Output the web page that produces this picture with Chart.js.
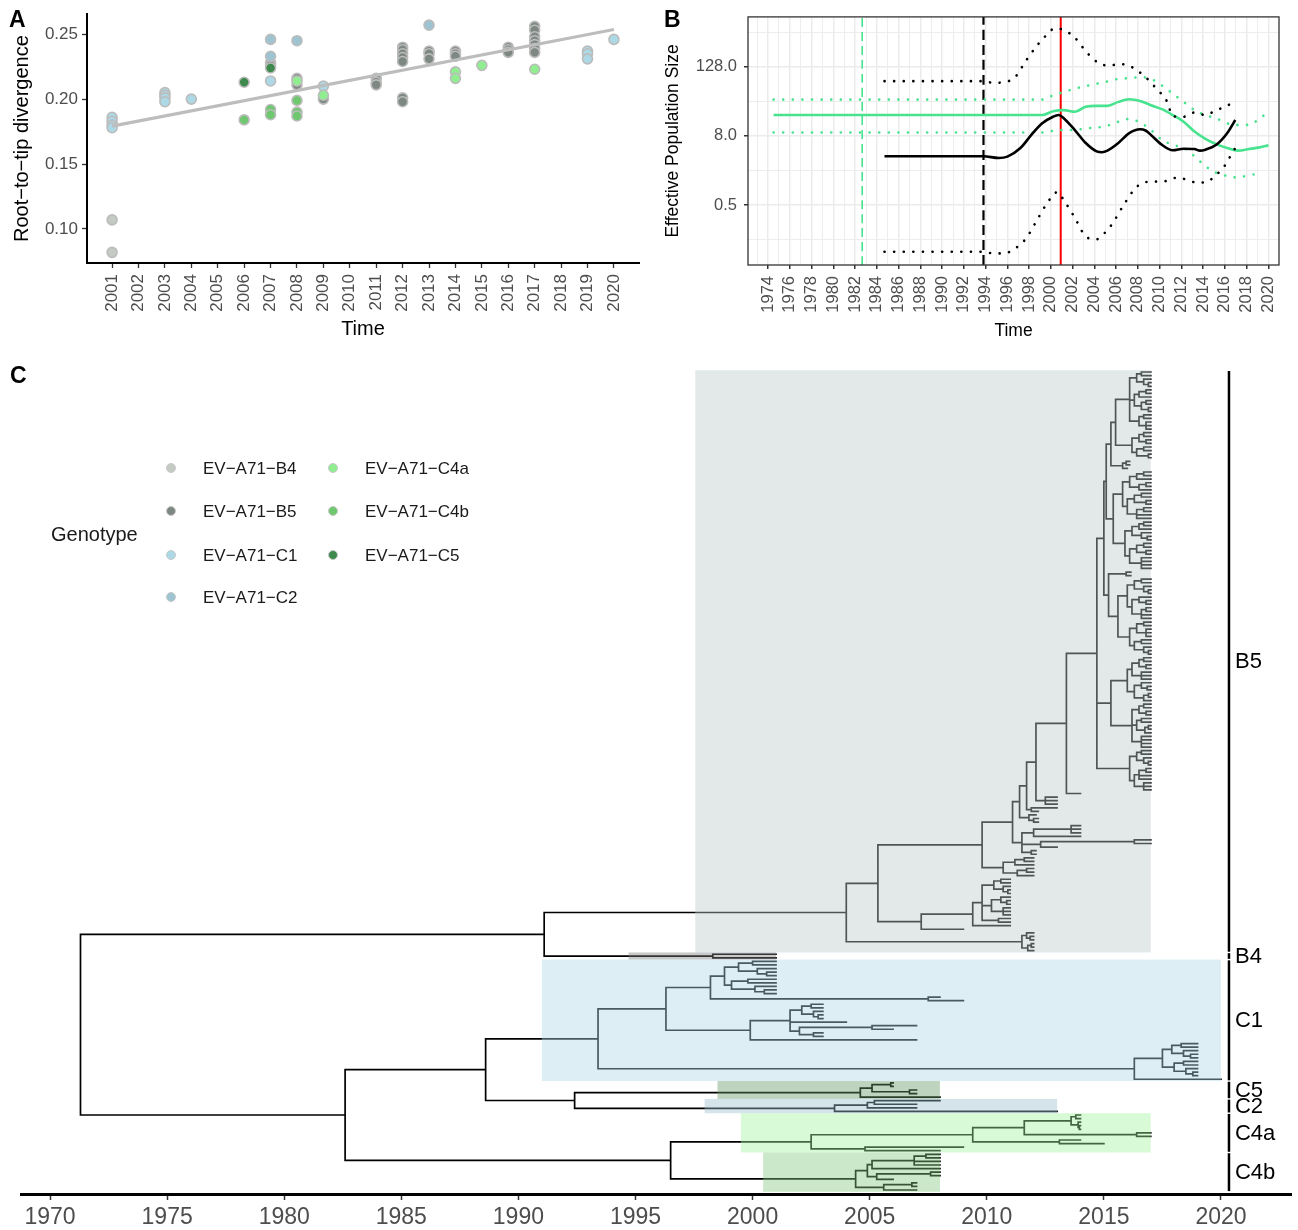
<!DOCTYPE html>
<html>
<head>
<meta charset="utf-8">
<title>EV-A71 root-to-tip, skyline and time tree</title>
<script src="https://cdn.jsdelivr.net/npm/chart.js@4.4.1/dist/chart.umd.min.js"></script>
<style>
  html, body { margin: 0; padding: 0; background: #fff; }
  body { position: relative; width: 1298px; height: 1230px; overflow: hidden;
         font-family: 'Liberation Sans', Arial, sans-serif; color: #000; }
  canvas { position: absolute; }
  #chartA { left: 0; top: 0; }
  #chartB { left: 650px; top: 0; }
  #chartC { left: 0; top: 340px; }
  .tag { position: absolute; font-weight: bold; font-size: 23px; line-height: 1; }
  .lg { position: absolute; white-space: nowrap; line-height: 1; color: #1a1a1a; }
  .lg-dot { position: absolute; box-sizing: border-box; width: 10px; height: 10px;
            border-radius: 50%; border: 1.5px solid #c8c8c8; }
</style>
</head>
<body>
<canvas id="chartA" width="650" height="345"></canvas>
<canvas id="chartB" width="648" height="345"></canvas>
<canvas id="chartC" width="1298" height="890"></canvas>
<div class="tag" style="left:9px;top:8px">A</div>
<div class="tag" style="left:664px;top:8px">B</div>
<div class="tag" style="left:10px;top:364px">C</div>
<div id="legend"></div>
<script>
// ---------- Panel A: root-to-tip divergence ----------
const genotypeNames = ['EV−A71−B4', 'EV−A71−B5', 'EV−A71−C1', 'EV−A71−C2', 'EV−A71−C4a', 'EV−A71−C4b', 'EV−A71−C5'];
const aTickYears = [2001, 2002, 2003, 2004, 2005, 2006, 2007, 2008, 2009, 2010, 2011, 2012, 2013, 2014, 2015, 2016, 2017, 2018, 2019, 2020];
const aTickDiv = [0.10, 0.15, 0.20, 0.25];

const b4Years = [2001, 2001];
const b4Div = [0.107, 0.082];
const b5Years = [2007, 2007, 2008, 2008, 2009, 2011, 2011, 2011, 2012, 2012, 2012, 2012, 2012, 2012, 2012,
  2013, 2013, 2013, 2014, 2014, 2014, 2016, 2016, 2016, 2017, 2017, 2017, 2017, 2017, 2017, 2017];
const b5Div = [0.228, 0.226, 0.216, 0.211, 0.200, 0.216, 0.213, 0.211, 0.240, 0.238, 0.235, 0.232, 0.229, 0.201, 0.198,
  0.237, 0.235, 0.231, 0.237, 0.235, 0.233, 0.240, 0.238, 0.236, 0.256, 0.253, 0.248, 0.245, 0.242, 0.239, 0.236];
const c1Years = [2001, 2001, 2001, 2001, 2003, 2003, 2003, 2003, 2004, 2007, 2009, 2019, 2019, 2019, 2020];
const c1Div = [0.186, 0.183, 0.180, 0.178, 0.205, 0.203, 0.201, 0.198, 0.200, 0.214, 0.210, 0.237, 0.235, 0.231, 0.246];
const c2Years = [2007, 2007, 2008, 2013];
const c2Div = [0.246, 0.233, 0.245, 0.257];
const c4aYears = [2008, 2009, 2014, 2014, 2015, 2017];
const c4aDiv = [0.214, 0.203, 0.221, 0.216, 0.226, 0.223];
const c4bYears = [2006, 2007, 2007, 2008, 2008, 2008];
const c4bDiv = [0.184, 0.192, 0.188, 0.199, 0.190, 0.187];
const c5Years = [2006, 2007];
const c5Div = [0.213, 0.224];
const trendYears = [2001, 2020];
const trendDiv = [0.1792, 0.2536];

// ---------- Panel B: skyline (log2 scale) ----------
const bTickYears = [1974, 1976, 1978, 1980, 1982, 1984, 1986, 1988, 1990, 1992, 1994, 1996, 1998,
  2000, 2002, 2004, 2006, 2008, 2010, 2012, 2014, 2016, 2018, 2020];
const bSizeTicks = [0.5, 8, 128];
const bSizeMinor = [0.125, 2, 32, 512];

const kMedYears = [1984.7, 1993.8, 1995.2, 1996.0, 1997.2, 1998.2, 1999.2, 2000.2, 2000.7, 2001.2, 2002.2, 2003.2,
  2004.2, 2004.7, 2005.2, 2006.2, 2007.2, 2008.2, 2008.7, 2009.2, 2010.2, 2011.2, 2012.2, 2013.2, 2013.7, 2014.2,
  2015.2, 2016.2, 2016.95];
const kMed = [3.53, 3.53, 3.30, 3.48, 4.9, 8.3, 13.2, 17.2, 18.4, 16.1, 10.1, 6.0, 4.3, 4.14, 4.42, 6.0, 8.9, 10.4,
  9.9, 8.3, 5.6, 4.48, 4.78, 4.71, 4.42, 4.59, 5.6, 8.9, 15.1];
const kUpYears = [1984.7, 1993.8, 1994.7, 1995.7, 1996.7, 1997.7, 1998.7, 1999.6, 2000.4, 2001.3, 2002.2, 2003.3,
  2004.3, 2005.3, 2006.3, 2007.3, 2008.7, 2009.7, 2010.7, 2011.2, 2012.2, 2013.2, 2014.2, 2015.2, 2016.2, 2016.95];
const kUp = [71.6, 71.6, 67, 68.8, 83.9, 162, 294, 455, 600, 540, 410, 226, 152, 133, 142, 130, 84, 53, 31, 17.5,
  17.2, 20.4, 18.4, 22.4, 26.6, 33.3];
const kLowYears = [1984.7, 1993.8, 1994.7, 1995.7, 1996.7, 1997.7, 1998.7, 1999.6, 2000.6, 2001.2, 2002.2, 2003.1,
  2004.1, 2004.9, 2005.6, 2006.6, 2007.6, 2008.5, 2009.7, 2010.65, 2011.6, 2012.4, 2013.4, 2014.2, 2015.1, 2015.9,
  2016.4, 2016.95];
const kLow = [0.0767, 0.0767, 0.072, 0.072, 0.0875, 0.13, 0.269, 0.52, 0.84, 0.6, 0.30, 0.15, 0.125, 0.16, 0.23,
  0.47, 0.90, 1.23, 1.28, 1.31, 1.50, 1.40, 1.23, 1.23, 1.62, 2.3, 3.3, 4.91];

const gYears = [1974.5, 1999.2, 2000.2, 2001.2, 2002.2, 2003.2, 2004.2, 2005.2, 2006.2, 2007.2, 2008.2, 2009.2,
  2010.2, 2011.2, 2012.2, 2013.2, 2014.2, 2015.2, 2016.2, 2017.2, 2018.2, 2019.2, 2020.0];
const gMed = [18.4, 18.4, 21.5, 22.4, 21.0, 25.6, 26.6, 26.6, 31.2, 34.6, 32.4, 27.3, 23.3, 18.4, 14.1, 9.5, 7.1,
  5.75, 4.91, 4.42, 4.71, 5.04, 5.46];
const gUp = [34.2, 34.2, 40.6, 46.3, 52.9, 58.7, 64.4, 70.7, 78.5, 80.6, 83.9, 78.5, 60.3, 43.4, 31.2, 22.4, 18.4,
  16.1, 13.2, 12.4, 12.4, 16.1, 21.0];
const gLow = [9.13, 9.13, 9.75, 10.1, 10.1, 10.8, 11.1, 12.0, 14.1, 15.7, 13.7, 10.1, 6.83, 5.6, 4.91, 3.53, 2.38,
  1.82, 1.60, 1.50, 1.66, 1.75];

const markerYears = [1982.65, 1993.8, 2000.9];   // green dashed, black dashed, red

// ---------- Panel C: time-scaled tree ----------
// internal node = [node date, ...children top to bottom]; a plain number is a tip (sampling date)
const cTickYears = [1970, 1975, 1980, 1985, 1990, 1995, 2000, 2005, 2010, 2015, 2020];

const b5M1 = [2016.1, [2016.4, [2016.6, 2017, 2017], [2016.7, 2017, [2016.9, 2017, 2017]]],
  [2016.3, [2016.5, [2016.8, 2017, 2017], 2017], [2016.6, [2016.8, 2017, 2017], [2016.9, 2017, 2017]]],
  [2016.5, [2016.7, 2017, 2017], [2016.8, 2017, 2017, 2017]]];
const b5M2 = [2016.2, [2016.5, [2016.7, 2017, 2017], [2016.8, 2017, 2017]], [2016.4, [2016.7, 2017, 2017], [2016.9, 2017, 2017]]];
const b5M3 = [2015.8, [2015.95, 2016.1, 2016.1], 2016.0];
const b5M4 = [2015.8, [2016.1, [2016.4, [2016.7, 2017, 2017], 2017], [2016.5, [2016.8, 2017, 2017], 2017]],
  [2016.0, [2016.3, [2016.6, 2017, 2017], [2016.8, 2017, 2017]], [2016.4, [2016.7, 2017, 2017], 2017, 2017]]];
const b5M5 = [2015.9, [2016.2, [2016.5, [2016.7, 2017, 2017], 2017], [2016.6, 2017, [2016.85, 2017, 2017]]],
  [2016.1, [2016.4, [2016.7, 2017, 2017], [2016.8, 2017, 2017]], [2016.6, 2017, 2017, 2017, 2017]]];
const b5M6 = [2015.95, 2016.15, 2016.15];
const b5M7a = [2016.0, [2016.3, [2016.6, 2017, 2017], [2016.7, 2017, [2016.9, 2017, 2017]]],
  [2016.2, [2016.5, 2017, [2016.8, 2017, 2017]], [2016.6, [2016.8, 2017, 2017], 2017, 2017]]];
const b5M7b = [2016.1, [2016.4, [2016.7, 2017, 2017], [2016.8, 2017, 2017, 2017]],
  [2016.3, [2016.6, 2017, 2017], [2016.7, 2017, [2016.9, 2017, 2017]]]];
const b5M8a = [2016.0, [2016.2, [2016.5, [2016.7, 2017, 2017], [2016.8, 2017, 2017]], [2016.6, 2017, 2017, 2017]],
  [2016.3, [2016.6, 2017, [2016.85, 2017, 2017]], [2016.7, [2016.9, 2017, 2017], 2017]]];
const b5M8b = [2016.2, [2016.5, [2016.7, 2017, 2017], [2016.8, 2017, 2017]],
  [2016.4, [2016.6, 2017, 2017], [2016.75, [2016.9, 2017, 2017], 2017]], [2016.6, 2017, 2017, 2017, 2017]];
const b5M9 = [2016.1, [2016.4, [2016.6, 2017, 2017], [2016.7, 2017, [2016.9, 2017, 2017]]],
  [2016.3, [2016.5, [2016.8, 2017, 2017], 2017, 2017], [2016.7, 2017, 2017, 2017]]];
const b5Main = [2014.7, [2015.0, [2015.1, [2015.3, [2015.5, b5M1, b5M2], b5M3], [2015.4, b5M4, b5M5]],
  [2015.2, b5M6, [2015.6, b5M7a, b5M7b]]], [2015.3, b5M8a, b5M8b], b5M9];
const b5V1a = [2011.4, [2011.7, [2012.1, [2013.4, b5Main, 2014.0], [2012.5, 2013.0, 2013.0, 2013.0]], [2011.9, 2013.0, 2012.2]],
  [2011.8, 2012.1, [2012.0, 2012.2, 2012.2]]];
const b5V1b = [2011.5, [2012.0, [2013.6, 2014.0, 2014.0, 2014.0], 2014.0], [2012.3, [2016.3, 2017.0, 2017.0], 2013.0],
  [2011.9, 2012.1, 2012.1]];
const b5V2 = [2010.7, [2011.2, [2011.6, 2012.0, 2012.0], 2012.0], [2011.3, [2011.7, 2012.0, 2012.0], 2012.0]];
const b5W1 = [2009.8, [2010.3, [2010.6, 2011.0, 2011.0], [2010.7, 2011.0, [2010.9, 2011.0, 2011.0]]],
  [2010.2, [2010.6, 2011.0, [2010.85, 2011.0, 2011.0]], [2010.7, 2011.0, 2011.0, 2011.0]], [2010.5, 2011.0, 2011.0]];
const b5L6 = [2011.5, [2011.7, 2012.0, [2011.85, 2012.0, 2012.0]], [2011.75, [2011.9, 2012.0, 2012.0], 2012.0]];

const cladeB5 = [2004.0, [2005.35, [2009.8, [2011.1, b5V1a, b5V1b], b5V2], [2007.2, [2009.4, b5W1, 2011.0], 2009.0]], b5L6];
const cladeB4 = [1998.3, 2001.0, 2001.0];
const cladeC1 = [1993.4,
  [1996.3,
    [1998.2,
      [1998.8,
        [1999.4, [2000.0, 2001.0, 2001.0], [2000.2, 2001.0, [2000.6, 2001.0, 2001.0]]],
        [1999.1, [1999.8, 2001.0, 2001.0], [2000.1, 2001.0, [2000.5, 2001.0, 2001.0]]]],
      [2007.5, 2008.0, 2009.0]],
    [1999.9,
      [2001.6,
        [2002.1, [2002.5, 2003.0, 2003.0], [2002.6, 2003.0, [2002.8, 2003.0, 2003.0]]],
        2004.0,
        [2002.0, [2005.1, 2007.0, 2006.0], [2002.6, 2003.0, 2003.0]]],
      2007.0]],
  [2016.3,
    [2017.5,
      [2017.9, [2018.3, 2019.0, 2019.0], [2018.4, 2019.0, [2018.7, 2019.0, 2019.0]]],
      [2018.0, [2018.4, 2019.0, 2019.0], [2018.5, 2019.0, [2018.8, 2019.0, 2019.0]]]],
    2020.0]];
const cladeC5 = [2004.6, [2005.1, [2005.9, 2006.0, 2006.0], [2006.7, 2007.0, 2007.0]], 2008.0];
const cladeC2 = [2003.5, [2004.9, [2005.2, 2008.0, 2007.0], 2007.0], 2013.0];
const cladeC4a = [2002.5,
  [2009.4,
    [2011.6, [2013.6, [2013.8, 2014.0, 2014.0], [2013.9, 2014.0, [2013.95, 2014.0, 2014.0]]], [2016.4, 2017.0, 2017.0]],
    [2013.1, 2014.0, 2015.0]],
  [2004.8, 2009.0, 2008.0]];
const cladeC4b = [2004.4,
  [2004.9,
    [2005.1, [2006.9, [2007.4, 2008.0, 2008.0], 2008.0, 2008.0], 2008.0],
    [2005.3, [2007.6, 2008.0, 2008.0], 2006.0]],
  [2005.6, [2006.8, 2007.0, 2007.0], 2007.0]];

const tree = [1971.3, [1991.1, cladeB5, cladeB4],
  [1982.6, [1988.6, cladeC1, [1992.4, cladeC5, cladeC2]], [1996.5, cladeC4a, cladeC4b]]];
const cladeNames = ['B5', 'B4', 'C1', 'C5', 'C2', 'C4a', 'C4b'];
const cladeNodes = [cladeB5, cladeB4, cladeC1, cladeC5, cladeC2, cladeC4a, cladeC4b];

// ---------- styles ----------
const GENO_COLORS = ['#c3cbc3', '#7e8882', '#add8e6', '#9ec4d2', '#90ee90', '#6fc76f', '#3d8a4c'];
const HILIGHT = {
  B5: 'rgba(188,203,203,0.42)', B4: 'rgba(126,126,126,0.42)', C1: 'rgba(174,214,231,0.42)',
  C5: 'rgba(103,153,103,0.42)', C2: 'rgba(155,188,205,0.42)', C4a: 'rgba(162,243,157,0.42)',
  C4b: 'rgba(131,200,131,0.42)',
};
const TICK_GREY = '#4d4d4d';
const GREEN_LINE = '#47e38e';

Chart.defaults.font.family = "'Liberation Sans', Arial, sans-serif";
Chart.defaults.color = TICK_GREY;

const pts = (xs, ys) => xs.map((x, i) => ({ x, y: ys[i] }));
const baseOpts = {
  responsive: false, animation: false, devicePixelRatio: 1, events: [],
  plugins: { legend: { display: false }, tooltip: { enabled: false } },
};

// ---------- Panel A ----------
const genoSets = [
  [6, c5Years, c5Div], [4, c4aYears, c4aDiv], [5, c4bYears, c4bDiv], [2, c1Years, c1Div],
  [3, c2Years, c2Div], [1, b5Years, b5Div], [0, b4Years, b4Div],
];

new Chart(document.getElementById('chartA'), {
  type: 'scatter',
  data: {
    datasets: [
      { type: 'line', data: pts(trendYears, trendDiv), borderColor: '#bdbdbd', borderWidth: 3.2,
        pointRadius: 0, fill: false },
      ...genoSets.map(([g, xs, ys]) => ({
        label: genotypeNames[g], data: pts(xs, ys), backgroundColor: GENO_COLORS[g],
        borderColor: '#bcbcbc', borderWidth: 1.6, pointRadius: 5,
      })),
    ],
  },
  options: {
    ...baseOpts,
    layout: { padding: { left: 0, top: 14, right: 11, bottom: 0 } },
    scales: {
      x: {
        type: 'linear', min: 2000.05, max: 2020.95,
        afterBuildTicks: (s) => { s.ticks = aTickYears.map((v) => ({ value: v })); },
        afterFit: (s) => { s.height = 82; },
        ticks: { autoSkip: false, minRotation: 90, maxRotation: 90, padding: 6, font: { size: 17 },
          color: TICK_GREY, callback: (v) => String(v) },
        grid: { drawOnChartArea: false, drawTicks: true, tickLength: 5, tickColor: '#333', tickWidth: 1.3 },
        border: { display: true, color: '#000', width: 2 },
        title: { display: true, text: 'Time', color: '#000', font: { size: 20 }, padding: { top: 0, bottom: 4 } },
      },
      y: {
        type: 'linear', min: 0.0738, max: 0.2654,
        afterBuildTicks: (s) => { s.ticks = aTickDiv.map((v) => ({ value: v })); },
        afterFit: (s) => { s.width = 87; },
        ticks: { padding: 4, font: { size: 17 }, color: TICK_GREY, callback: (v) => v.toFixed(2) },
        grid: { drawOnChartArea: false, drawTicks: true, tickLength: 5, tickColor: '#333', tickWidth: 1.3 },
        border: { display: true, color: '#000', width: 2 },
        title: { display: true, text: 'Root−to−tip divergence', color: '#000', font: { size: 20 },
          padding: { top: 10, bottom: 0 } },
      },
    },
  },
});

// ---------- Panel B ----------
const B_YMIN = 0.0452, B_YMAX = 940;
const bGridYears = [];
for (let yr = 1973; yr <= 2020; yr++) bGridYears.push(yr);

const frame = {
  id: 'frame',
  afterDraw(chart) {
    const { ctx, chartArea: a } = chart;
    ctx.save();
    ctx.strokeStyle = '#333';
    ctx.lineWidth = 1.3;
    ctx.strokeRect(a.left, a.top, a.right - a.left, a.bottom - a.top);
    ctx.restore();
  },
};

const dotted = (color) => ({ borderColor: color, borderWidth: 2.6, borderDash: [0.1, 9.5], borderCapStyle: 'round' });
const vline = (yr) => [{ x: yr, y: B_YMIN }, { x: yr, y: B_YMAX }];

new Chart(document.getElementById('chartB'), {
  type: 'line',
  data: {
    datasets: [
      { data: pts(kMedYears, kMed), borderColor: '#000', borderWidth: 2.6 },
      { data: pts(kUpYears, kUp), ...dotted('#000') },
      { data: pts(kLowYears, kLow), ...dotted('#000') },
      { data: pts(gYears, gMed), borderColor: GREEN_LINE, borderWidth: 2.6 },
      { data: pts(gYears, gUp), ...dotted(GREEN_LINE) },
      { data: pts(gYears.slice(0, gLow.length), gLow), ...dotted(GREEN_LINE) },
      { data: vline(markerYears[2]), borderColor: '#ff0000', borderWidth: 2 },
      { data: vline(markerYears[1]), borderColor: '#000', borderWidth: 2.2, borderDash: [10, 5] },
      { data: vline(markerYears[0]), borderColor: GREEN_LINE, borderWidth: 1.6, borderDash: [9, 5] },
    ].map((d) => ({ pointRadius: 0, fill: false, cubicInterpolationMode: 'monotone', ...d })),
  },
  options: {
    ...baseOpts,
    layout: { padding: { left: 0, top: 14, right: 19, bottom: 0 } },
    scales: {
      x: {
        type: 'linear', min: 1972.15, max: 2020.97,
        afterBuildTicks: (s) => { s.ticks = bGridYears.map((v) => ({ value: v })); },
        afterFit: (s) => { s.height = 80; },
        ticks: { autoSkip: false, minRotation: 90, maxRotation: 90, padding: 7, font: { size: 16.5 }, color: TICK_GREY,
          callback: (v) => (bTickYears.includes(v) ? String(v) : '') },
        grid: { color: '#ebebeb', drawTicks: true, tickLength: 4,
          lineWidth: (c) => (c.tick && bTickYears.includes(c.tick.value) ? 1.5 : 0.9),
          tickColor: (c) => (c.tick && bTickYears.includes(c.tick.value) ? '#333' : 'rgba(0,0,0,0)') },
        border: { display: false },
        title: { display: true, text: 'Time', color: '#000', font: { size: 17.5 }, padding: { top: 0, bottom: 3.5 } },
      },
      y: {
        type: 'logarithmic', min: B_YMIN, max: B_YMAX,
        afterBuildTicks: (s) => {
          s.ticks = [...bSizeMinor, ...bSizeTicks].sort((p, q) => p - q).map((v) => ({ value: v }));
        },
        afterFit: (s) => { s.width = 98; },
        ticks: { padding: 7, font: { size: 16.5 }, color: TICK_GREY,
          callback: (v) => (bSizeTicks.includes(v) ? v.toFixed(1) : '') },
        grid: { color: '#ebebeb', drawTicks: true, tickLength: 4,
          lineWidth: (c) => (c.tick && bSizeTicks.includes(c.tick.value) ? 1.5 : 0.9),
          tickColor: (c) => (c.tick && bSizeTicks.includes(c.tick.value) ? '#333' : 'rgba(0,0,0,0)') },
        border: { display: false },
        title: { display: true, text: 'Effective Population Size', color: '#000', font: { size: 17.5 },
          padding: { top: 12.5, bottom: 0 } },
      },
    },
  },
  plugins: [frame],
});

// ---------- Panel C: lay the tree out (tips evenly spaced, node at middle of its children) ----------
const cladeByNode = new Map(cladeNodes.map((n, i) => [n, cladeNames[i]]));
let tipIndex = 0;
const branchPts = [];
const cladeBoxes = [];

function place(node, parentDate) {
  if (typeof node === 'number') {
    const y = tipIndex++;
    return { d: node, y, first: y, last: y, maxD: node };
  }
  const date = node[0];
  const kids = node.slice(1).map((ch) => place(ch, date));
  const y = (kids[0].y + kids[kids.length - 1].y) / 2;
  for (const k of kids) {
    branchPts.push({ x: date, y }, { x: date, y: k.y }, { x: k.d, y: k.y }, { x: k.d, y: null });
  }
  const info = { d: date, y, first: kids[0].first, last: kids[kids.length - 1].last,
    maxD: Math.max(...kids.map((k) => k.maxD)) };
  if (cladeByNode.has(node)) {
    cladeBoxes.push({ name: cladeByNode.get(node), x0: (parentDate + date) / 2, x1: info.maxD,
      first: info.first, last: info.last });
  }
  return info;
}
const rootInfo = place(tree, null);
const nTips = tipIndex;

// pixel layout of the tip column inside the canvas (canvas top is at page y=340)
const AREA_TOP = 28, AREA_BOTTOM = 854, FIRST_TIP = 32, LAST_TIP = 850;
const tipStep = (LAST_TIP - FIRST_TIP) / (nTips - 1);
const cYMin = -(FIRST_TIP - AREA_TOP) / tipStep;
const cYMax = (nTips - 1) + (AREA_BOTTOM - LAST_TIP) / tipStep;

const cladeDecor = {
  id: 'cladeDecor',
  afterDatasetsDraw(chart) {
    const { ctx, scales: { x, y } } = chart;
    ctx.save();
    for (const b of cladeBoxes) {
      const l = x.getPixelForValue(b.x0), r = x.getPixelForValue(b.x1);
      const t = y.getPixelForValue(b.first - 0.5), btm = y.getPixelForValue(b.last + 0.5);
      ctx.fillStyle = HILIGHT[b.name];
      ctx.fillRect(l, t, r - l, btm - t);
    }
    const barX = x.getPixelForValue(rootInfo.maxD) + 8;
    ctx.strokeStyle = '#000';
    ctx.lineWidth = 2.5;
    ctx.fillStyle = '#000';
    ctx.font = "22px 'Liberation Sans', Arial, sans-serif";
    ctx.textBaseline = 'middle';
    for (const b of cladeBoxes) {
      const t = y.getPixelForValue(b.first - 0.3), btm = y.getPixelForValue(b.last + 0.3);
      ctx.beginPath();
      ctx.moveTo(barX, t);
      ctx.lineTo(barX, btm);
      ctx.stroke();
      ctx.fillText(b.name, barX + 6, (t + btm) / 2 + 1);
    }
    ctx.restore();
  },
};

new Chart(document.getElementById('chartC'), {
  type: 'line',
  data: {
    datasets: [{ data: branchPts, borderColor: '#000', borderWidth: 1.7, pointRadius: 0, fill: false,
      spanGaps: false, tension: 0, borderJoinStyle: 'miter', borderCapStyle: 'square' }],
  },
  options: {
    ...baseOpts,
    layout: { padding: { left: 21, top: AREA_TOP, right: 7, bottom: 0 } },
    scales: {
      x: {
        type: 'linear', min: 1968.76, max: 2022.99,
        afterBuildTicks: (s) => { s.ticks = cTickYears.map((v) => ({ value: v })); },
        afterFit: (s) => { s.height = 36; },
        ticks: { autoSkip: false, maxRotation: 0, padding: 4, font: { size: 23 }, color: TICK_GREY,
          callback: (v) => String(v) },
        grid: { drawOnChartArea: false, drawTicks: true, tickLength: 6, tickColor: '#333', tickWidth: 1.5 },
        border: { display: true, color: '#000', width: 3 },
      },
      y: { type: 'linear', display: false, reverse: true, min: cYMin, max: cYMax },
    },
  },
  plugins: [cladeDecor],
});

// ---------- Genotype legend ----------
const legendCols = [[0, 1, 2, 3], [4, 5, 6]];
const LG_DOT_X = [171, 333], LG_TEXT_X = [203, 365], LG_ROW_Y = [468, 511, 555, 597];
const legend = document.getElementById('legend');
function addText(txt, left, cy, size) {
  const d = document.createElement('div');
  d.className = 'lg';
  d.textContent = txt;
  d.style.left = left + 'px';
  d.style.top = (cy - size * 0.49) + 'px';
  d.style.fontSize = size + 'px';
  legend.appendChild(d);
}
addText('Genotype', 51, 534, 20);
legendCols.forEach((col, ci) => {
  col.forEach((g, ri) => {
    const dot = document.createElement('div');
    dot.className = 'lg-dot';
    dot.style.background = GENO_COLORS[g];
    dot.style.left = (LG_DOT_X[ci] - 5) + 'px';
    dot.style.top = (LG_ROW_Y[ri] - 5) + 'px';
    legend.appendChild(dot);
    addText(genotypeNames[g], LG_TEXT_X[ci], LG_ROW_Y[ri], 17);
  });
});
</script>
</body>
</html>
